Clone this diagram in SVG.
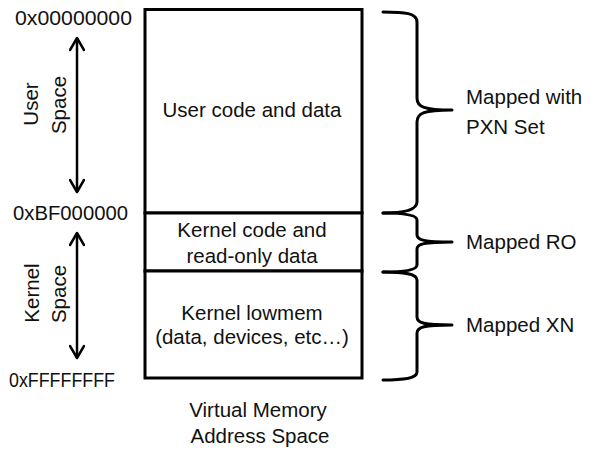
<svg xmlns="http://www.w3.org/2000/svg" width="591" height="449" viewBox="0 0 591 449">
<style>
text{font-family:"Liberation Sans",Arial,sans-serif;font-size:20.5px;fill:#111}
.m{text-anchor:middle}
.box{fill:#fff;stroke:#000;stroke-width:3}
.brace{fill:none;stroke:#000;stroke-width:3;stroke-linecap:round;stroke-linejoin:round}
.arr{fill:none;stroke:#000;stroke-width:2.5}
</style>
<defs>
<marker id="ah" viewBox="0 0 16 16" refX="14" refY="8" markerWidth="16" markerHeight="16" markerUnits="userSpaceOnUse" orient="auto-start-reverse">
<polyline points="2,1 14,8 2,15" fill="none" stroke="#000" stroke-width="2.5" stroke-linecap="round" stroke-linejoin="round"/>
</marker>
</defs>
<g id="user-region">
<rect class="box" x="145" y="9.5" width="217" height="203.5"/>
<text class="m" x="252" y="117">User code and data</text>
</g>
<g id="kernel-ro-region">
<rect class="box" x="145" y="213" width="217" height="58"/>
<text class="m" x="252" y="237">Kernel code and</text>
<text class="m" x="252" y="263">read-only data</text>
</g>
<g id="kernel-lowmem-region">
<rect class="box" x="145" y="271" width="217" height="107"/>
<text class="m" x="252" y="320">Kernel lowmem</text>
<text class="m" x="252" y="344">(data, devices, etc…)</text>
</g>
<g id="addresses">
<text x="15" y="25" textLength="117" lengthAdjust="spacingAndGlyphs">0x00000000</text>
<text x="13" y="220" textLength="115" lengthAdjust="spacingAndGlyphs">0xBF000000</text>
<text x="9" y="387" textLength="106" lengthAdjust="spacingAndGlyphs">0xFFFFFFFF</text>
</g>
<g id="user-space-label">
<text class="m" transform="translate(38,104) rotate(-90)">User</text>
<text class="m" transform="translate(66,105) rotate(-90)">Space</text>
</g>
<g id="kernel-space-label">
<text class="m" transform="translate(39,293) rotate(-90)">Kernel</text>
<text class="m" transform="translate(66,294) rotate(-90)">Space</text>
</g>
<g id="caption">
<text class="m" x="258" y="417">Virtual Memory</text>
<text class="m" x="260" y="443">Address Space</text>
</g>
<g id="connectors">
<line class="arr" x1="77" y1="38" x2="77" y2="192" marker-start="url(#ah)" marker-end="url(#ah)"/>
<line class="arr" x1="77" y1="233" x2="77" y2="358" marker-start="url(#ah)" marker-end="url(#ah)"/>
<path class="brace" d="M383,12 C405,12 417,13 417,22 L417,98 C417,107 424,110 452,110 C424,110 417,113 417,122 L417,202 C417,210 405,213 383,213"/>
<path class="brace" d="M383,213 C405,213 417,215 417,220 L417,235 C417,240 424,242 452,242 C424,242 417,244 417,249 L417,265 C417,270 405,272 383,272"/>
<path class="brace" d="M383,272 C405,272 417,274 417,280 L417,317 C417,323 424,325 452,325 C424,325 417,327 417,333 L417,372 C417,378 405,380 383,380"/>
</g>
<g id="brace-labels">
<text x="466" y="104">Mapped with</text>
<text x="466" y="134">PXN Set</text>
<text x="466" y="249">Mapped RO</text>
<text x="466" y="332">Mapped XN</text>
</g>
</svg>
